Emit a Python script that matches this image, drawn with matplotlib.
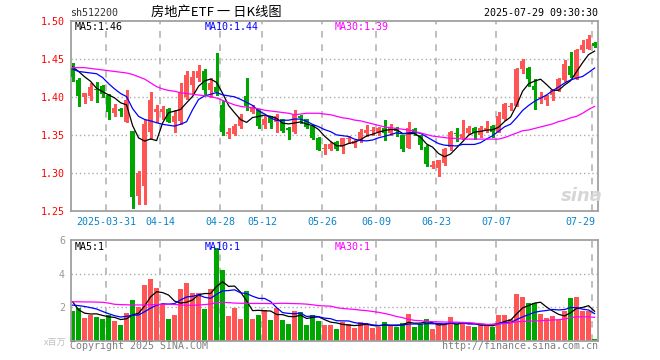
import numpy as np
import pandas as pd
import matplotlib
matplotlib.use('Agg')
import matplotlib.pyplot as plt
import matplotlib.transforms as mtransforms

# ---- data (sh512200, 88 trading days) ----
opens = [1.438, 1.423, 1.400, 1.402, 1.411, 1.415, 1.403, 1.379, 1.385, 1.368,
         1.355, 1.270, 1.283, 1.355, 1.381, 1.381, 1.385, 1.368, 1.369, 1.400,
         1.416, 1.425, 1.435, 1.410, 1.414, 1.390, 1.352, 1.352, 1.362, 1.402,
         1.381, 1.384, 1.364, 1.375, 1.368, 1.371, 1.359, 1.355, 1.375, 1.371,
         1.362, 1.347, 1.332, 1.332, 1.341, 1.334, 1.345, 1.339, 1.343, 1.353,
         1.356, 1.355, 1.360, 1.353, 1.360, 1.350, 1.333, 1.358, 1.350, 1.334,
         1.308, 1.307, 1.313, 1.334, 1.353, 1.346, 1.353, 1.360, 1.350, 1.356,
         1.362, 1.355, 1.371, 1.387, 1.389, 1.437, 1.439, 1.415, 1.399, 1.396,
         1.403, 1.410, 1.423, 1.441, 1.425, 1.462, 1.464, 1.472]
highs = [1.445, 1.426, 1.406, 1.419, 1.420, 1.416, 1.405, 1.391, 1.386, 1.410,
         1.355, 1.303, 1.370, 1.407, 1.390, 1.389, 1.386, 1.383, 1.419, 1.435,
         1.435, 1.443, 1.437, 1.425, 1.458, 1.395, 1.359, 1.365, 1.378, 1.425,
         1.390, 1.385, 1.375, 1.376, 1.378, 1.372, 1.361, 1.383, 1.377, 1.372,
         1.363, 1.348, 1.338, 1.341, 1.342, 1.347, 1.349, 1.344, 1.358, 1.363,
         1.361, 1.361, 1.370, 1.365, 1.361, 1.351, 1.368, 1.359, 1.351, 1.337,
         1.316, 1.317, 1.333, 1.356, 1.359, 1.370, 1.362, 1.361, 1.362, 1.369,
         1.363, 1.381, 1.392, 1.393, 1.439, 1.450, 1.440, 1.424, 1.407, 1.403,
         1.411, 1.425, 1.449, 1.459, 1.463, 1.476, 1.482, 1.473]
lows = [1.421, 1.389, 1.392, 1.396, 1.394, 1.400, 1.372, 1.375, 1.375, 1.367,
        1.255, 1.260, 1.260, 1.345, 1.367, 1.371, 1.367, 1.355, 1.365, 1.398,
        1.405, 1.421, 1.405, 1.400, 1.403, 1.350, 1.346, 1.350, 1.360, 1.383,
        1.380, 1.360, 1.359, 1.359, 1.355, 1.354, 1.345, 1.353, 1.366, 1.359,
        1.345, 1.330, 1.325, 1.331, 1.330, 1.327, 1.340, 1.334, 1.341, 1.349,
        1.351, 1.350, 1.344, 1.351, 1.349, 1.329, 1.333, 1.350, 1.332, 1.309,
        1.307, 1.296, 1.311, 1.331, 1.343, 1.345, 1.352, 1.345, 1.348, 1.355,
        1.348, 1.354, 1.370, 1.383, 1.388, 1.432, 1.415, 1.384, 1.392, 1.390,
        1.396, 1.408, 1.422, 1.427, 1.424, 1.460, 1.463, 1.466]
closes = [1.427, 1.402, 1.406, 1.414, 1.410, 1.405, 1.381, 1.386, 1.382, 1.396,
          1.269, 1.300, 1.365, 1.396, 1.385, 1.385, 1.368, 1.375, 1.407, 1.429,
          1.427, 1.435, 1.410, 1.419, 1.407, 1.355, 1.355, 1.362, 1.374, 1.389,
          1.387, 1.362, 1.371, 1.366, 1.375, 1.356, 1.357, 1.377, 1.373, 1.361,
          1.346, 1.331, 1.333, 1.339, 1.332, 1.346, 1.346, 1.342, 1.355, 1.357,
          1.357, 1.360, 1.353, 1.361, 1.356, 1.332, 1.359, 1.353, 1.337, 1.312,
          1.311, 1.317, 1.332, 1.355, 1.352, 1.352, 1.359, 1.353, 1.360, 1.360,
          1.355, 1.375, 1.391, 1.389, 1.437, 1.448, 1.424, 1.409, 1.401, 1.402,
          1.410, 1.424, 1.444, 1.429, 1.462, 1.469, 1.477, 1.467]
# volume, millions
volumes = [1.77, 1.93, 1.37, 1.57, 1.41, 1.29, 1.53, 1.18, 0.94, 1.65,
           2.43, 2.03, 3.33, 3.69, 3.17, 2.17, 1.29, 1.53, 3.09, 3.43,
           2.85, 2.85, 1.89, 3.09, 5.56, 4.22, 1.49, 1.97, 1.29, 2.97,
           1.29, 1.57, 1.83, 1.24, 1.93, 1.24, 1.02, 1.77, 1.69, 0.94,
           1.57, 1.18, 0.94, 0.94, 0.70, 1.14, 0.98, 0.78, 1.10, 0.94,
           0.78, 0.84, 1.12, 0.94, 0.84, 1.04, 1.59, 0.84, 0.98, 1.29,
           0.70, 0.94, 0.94, 1.41, 0.98, 1.02, 0.90, 0.84, 0.94, 0.94,
           0.84, 1.53, 1.53, 1.33, 2.79, 2.63, 2.25, 2.25, 1.59, 1.35,
           1.47, 1.24, 1.77, 2.55, 2.63, 1.77, 1.77, 0.10]

# MA30 lines (need history before the window)
ma30 = [1.439, 1.439, 1.439, 1.438, 1.437, 1.436, 1.435, 1.434, 1.433, 1.432,
        1.430, 1.427, 1.424, 1.419, 1.414, 1.411, 1.409, 1.408, 1.406, 1.405,
        1.404, 1.403, 1.402, 1.401, 1.399, 1.396, 1.393, 1.390, 1.388, 1.387,
        1.386, 1.385, 1.383, 1.382, 1.381, 1.380, 1.379, 1.377, 1.378, 1.379,
        1.379, 1.379, 1.378, 1.377, 1.375, 1.373, 1.372, 1.370, 1.369, 1.367,
        1.365, 1.363, 1.361, 1.360, 1.359, 1.358, 1.357, 1.355, 1.353, 1.351,
        1.349, 1.348, 1.347, 1.346, 1.346, 1.345, 1.345, 1.345, 1.345, 1.345,
        1.345, 1.345, 1.347, 1.350, 1.353, 1.356, 1.357, 1.359, 1.361, 1.363,
        1.365, 1.368, 1.370, 1.373, 1.375, 1.379, 1.384, 1.388]
vol_ma30 = [2.33, 2.33, 2.32, 2.32, 2.31, 2.30, 2.25, 2.18, 2.16, 2.15,
            2.14, 2.14, 2.14, 2.15, 2.16, 2.17, 2.18, 2.17, 2.14, 2.12,
            2.12, 2.14, 2.16, 2.20, 2.28, 2.30, 2.28, 2.25, 2.24, 2.24,
            2.23, 2.23, 2.23, 2.22, 2.23, 2.24, 2.23, 2.22, 2.21, 2.19,
            2.15, 2.10, 2.08, 2.07, 1.98, 1.93, 1.90, 1.87, 1.83, 1.80,
            1.75, 1.70, 1.63, 1.55, 1.45, 1.38, 1.28, 1.22, 1.20, 1.16,
            1.14, 1.13, 1.12, 1.12, 1.11, 1.10, 1.08, 1.05, 1.01, 0.98,
            0.98, 1.00, 1.03, 1.08, 1.13, 1.16, 1.17, 1.18, 1.20, 1.22,
            1.24, 1.26, 1.30, 1.38, 1.43, 1.43, 1.43, 1.40]
# first points of MA5 / MA10 (window reaches before the first candle)
ma5_head = [1.440, 1.434, 1.427, 1.421]
ma10_head = [1.437, 1.434, 1.433, 1.432, 1.431, 1.426, 1.418, 1.411, 1.405]
vol_ma5_head = [2.33, 1.85, 1.65, 1.60]
vol_ma10_head = [2.13, 2.10, 2.05, 1.98, 1.90, 1.75, 1.62, 1.50, 1.42]

tick_idx = [6, 15, 25, 32, 42, 51, 61, 71, 87]
tick_labels = ['2025-03-31', '04-14', '04-28', '05-12', '05-26',
               '06-09', '06-23', '07-07', '07-29']

RED = '#ff5555'
GREEN = '#00a600'
MONO = 'DejaVu Sans Mono'
CJK = ['Noto Sans CJK SC', 'DejaVu Sans']


def moving_avg(vals, n, head):
    s = pd.Series(vals).rolling(n).mean().values
    s[:len(head)] = head
    return s


opens = np.array(opens)
closes = np.array(closes)
x = np.arange(len(closes))
up = closes >= opens
colors = np.where(up, RED, GREEN)

fig = plt.figure(figsize=(6.6, 3.6), dpi=100)
fig.patch.set_facecolor('white')
W, H = 660.0, 360.0


def px_axes(l, t, r, b):
    return fig.add_axes([l / W, 1 - b / H, (r - l) / W, (b - t) / H])


ax1 = px_axes(70.5, 21.3, 597.7, 211.3)
ax2 = px_axes(70.5, 240.3, 597.7, 340.8)

xlim = (-0.35, 87.52)
grid_x = [i - 0.38 for i in tick_idx]

for ax in (ax1, ax2):
    ax.set_xlim(*xlim)
    ax.set_xticks([])
    for s in ax.spines.values():
        s.set_color('#a0a0a0')
        s.set_linewidth(1.3)
    for g in grid_x:
        ax.axvline(g, color='#b4b4b4', lw=1.2, ls=(0, (4, 4)), zorder=0)

# ---- price panel ----
ax1.set_ylim(1.25, 1.50)
for yv in [1.30, 1.35, 1.40, 1.45]:
    ax1.axhline(yv, color='#aaaaaa', lw=1, ls=(0, (1, 2)), zorder=0)

ax1.vlines(x, lows, highs, colors=colors, lw=1, zorder=2, antialiased=False)
body_lo = np.minimum(opens, closes)
body_h = np.maximum(np.abs(closes - opens), 0.0012)
ax1.bar(x, body_h, bottom=body_lo, width=0.78, color=colors, lw=0,
        zorder=3, antialiased=False)

ma5 = moving_avg(closes, 5, ma5_head)
ma10 = moving_avg(closes, 10, ma10_head)
ax1.plot(x, ma5, color='black', lw=0.9, zorder=4)
ax1.plot(x, ma10, color='#0000ff', lw=0.9, zorder=4)
ax1.plot(x, ma30, color='#ff00ff', lw=0.9, zorder=4)

ax1.set_yticks([1.25, 1.30, 1.35, 1.40, 1.45, 1.50])
ax1.set_yticklabels(['%.2f' % v for v in ax1.get_yticks()], fontfamily=MONO)
ax1.tick_params(axis='y', length=0, pad=4, labelcolor='red', labelsize=7.2)

trans1 = mtransforms.blended_transform_factory(ax1.transData, ax1.transAxes)
for i, lab in zip(tick_idx, tick_labels):
    if i == tick_idx[-1]:
        ax1.text(xlim[1] - 0.45, -0.055, lab, transform=trans1, ha='right',
                 va='center', color='#0a84c8', fontsize=7.2, family=MONO)
    else:
        ax1.text(i - 0.38, -0.055, lab, transform=trans1, ha='center',
                 va='center', color='#0a84c8', fontsize=7.2, family=MONO)

# ---- volume panel ----
ax2.set_ylim(0, 6)
for yv in [2, 4]:
    ax2.axhline(yv, color='#aaaaaa', lw=1, ls=(0, (1, 2)), zorder=0)
ax2.bar(x, volumes, width=0.78, color=colors, lw=0, zorder=2, antialiased=False)
vma5 = moving_avg(volumes, 5, vol_ma5_head)
vma10 = moving_avg(volumes, 10, vol_ma10_head)
ax2.plot(x, vma5, color='black', lw=0.9, zorder=4)
ax2.plot(x, vma10, color='#0000ff', lw=0.9, zorder=4)
ax2.plot(x, vol_ma30, color='#ff00ff', lw=0.9, zorder=4)
ax2.set_yticks([2, 4, 6])
ax2.set_yticklabels(['2', '4', '6'], fontfamily=MONO)
ax2.tick_params(axis='y', length=0, pad=4, labelcolor='#999999', labelsize=7.2)


# ---- texts ----
def ftext(px, py, s, **kw):
    kw.setdefault('fontsize', 7.2)
    kw.setdefault('family', MONO)
    kw.setdefault('va', 'center')
    fig.text(px / W, 1 - py / H, s, **kw)


ftext(70.5, 13, 'sh512200', color='#333333')
ftext(216, 12.5, '房地产ETF 一 日K线图', ha='center', color='black',
      fontsize=9.5, family=CJK)
ftext(597.7, 13, '2025-07-29 09:30:30', ha='right', color='black')

ftext(74.5, 27, 'MA5:%.2f' % ma5[-1], color='black')
ftext(205, 27, 'MA10:%.2f' % ma10[-1], color='#0000ff')
ftext(335, 27, 'MA30:%.2f' % ma30[-1], color='#ff00ff')

ftext(74.5, 247, 'MA5:1', color='black')
ftext(205, 247, 'MA10:1', color='#0000ff')
ftext(335, 247, 'MA30:1', color='#ff00ff')

ftext(66, 342, 'x百万', ha='right', color='#c0c0c0', fontsize=6.5, family=CJK)
ftext(70, 346, 'Copyright 2025 SINA.COM', color='#808080')
ftext(597.7, 346, 'http://finance.sina.com.cn', ha='right', color='#808080')

ftext(582, 196, 'sina', ha='center', color='#d6d6d6', fontsize=13,
      family='DejaVu Sans', style='italic', weight='bold')

fig.savefig('out.png', dpi=100, facecolor='white')
